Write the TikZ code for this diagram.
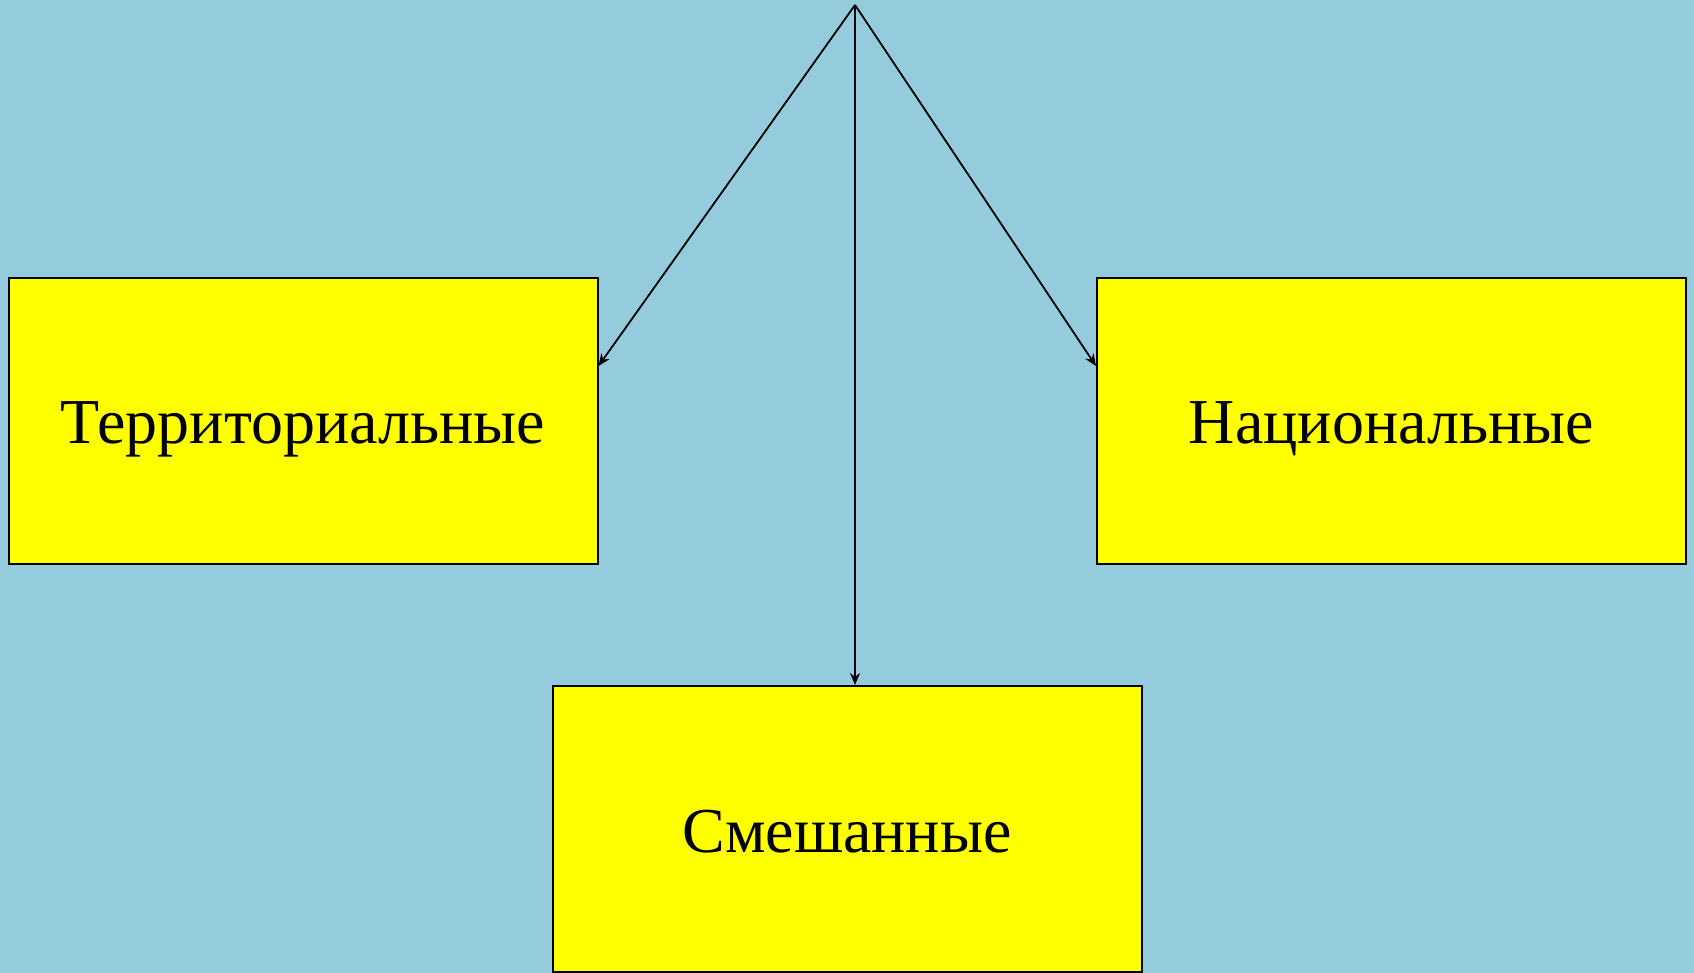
\documentclass[tikz,border=0pt]{standalone}
\usepackage{fontspec}
\setmainfont{Liberation Serif}
\usetikzlibrary{arrows.meta}
\definecolor{bg}{RGB}{148,204,221}
\definecolor{boxyellow}{RGB}{255,255,0}
\begin{document}
\begin{tikzpicture}[x=0.5pt,y=-0.5pt,
  catbox/.style={draw=black,line width=1pt,fill=boxyellow,minimum width=589*0.5pt,minimum height=286*0.5pt,inner sep=0pt,text height=23pt,text depth=0pt,font=\fontsize{32}{38}\selectfont},
  conn/.style={line width=0.9pt,-{Stealth[length=6pt,width=5pt]}}]
\fill[bg] (0,0) rectangle (1694,973);
\useasboundingbox (0,0) rectangle (1694,973);
\node[catbox] (terr) at (303,421) {Территориальные};
\node[catbox] (nat) at (1391.5,421) {Национальные};
\node[catbox] (mix) at (847,829) {Смешанные};
\coordinate (top) at (855,5);
\draw[conn] (top) -- (terr.north east |- 0,366);
\draw[conn] (top) -- (nat.north west |- 0,366);
\draw[conn] (top) -- (top |- mix.north);
\end{tikzpicture}
\end{document}
